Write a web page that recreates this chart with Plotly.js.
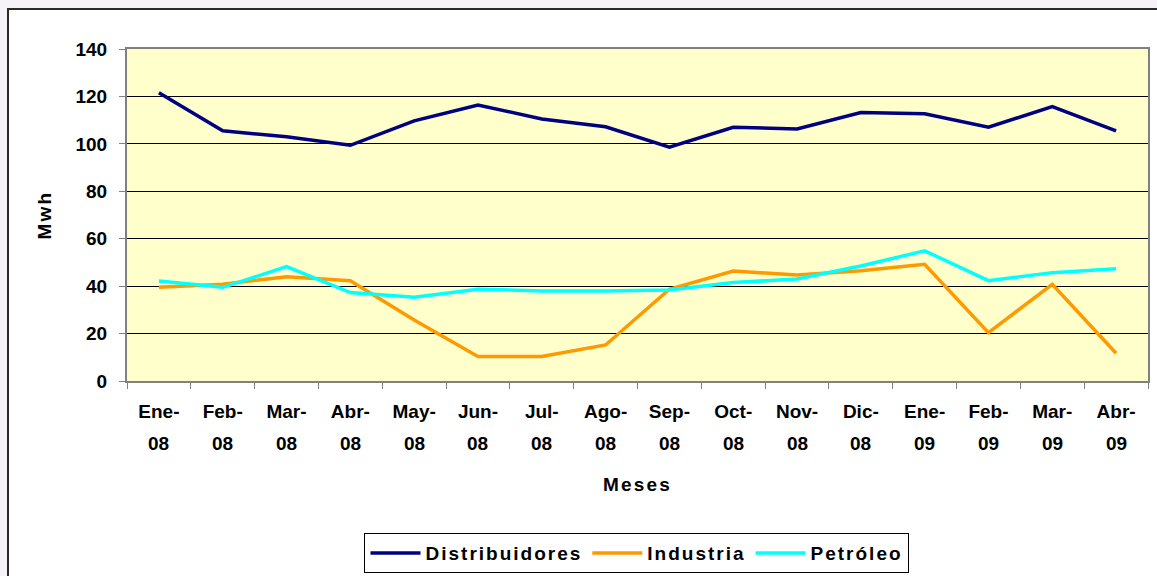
<!DOCTYPE html>
<html>
<head>
<meta charset="utf-8">
<script src="https://cdn.plot.ly/plotly-3.0.1.min.js"></script>
<style>
  html, body { margin: 0; padding: 0; background: #f5f2f8; width: 1157px; height: 576px; overflow: hidden; }
  #frame { position: absolute; left: 7px; top: 8px; width: 1160px; height: 580px; background: #ffffff; border: 2px solid #2a2a2a; }
  #chart { position: absolute; left: 0; top: 0; width: 1157px; height: 576px; }
  .legendtext { letter-spacing: 2px; }
  .xtitle, .ytitle { letter-spacing: 2.2px; }
</style>
</head>
<body>
<div id="frame"></div>
<div id="chart"></div>
<script>
// Categories (unique keys) and their two-line labels
const categories = ['Ene-08','Feb-08','Mar-08','Abr-08','May-08','Jun-08','Jul-08','Ago-08',
                    'Sep-08','Oct-08','Nov-08','Dic-08','Ene-09','Feb-09','Mar-09','Abr-09'];
const monthLabels = ['Ene-','Feb-','Mar-','Abr-','May-','Jun-','Jul-','Ago-',
                     'Sep-','Oct-','Nov-','Dic-','Ene-','Feb-','Mar-','Abr-'];
const yearLabels = ['08','08','08','08','08','08','08','08',
                    '08','08','08','08','09','09','09','09'];

// Series values (Mwh)
const distribuidores = [121.6,105.5,103.0,99.4,109.7,116.4,110.5,107.2,98.6,107.0,106.3,113.2,112.7,107.0,115.7,105.5];
const industria      = [39.5,40.8,44.0,42.3,25.7,10.3,10.3,15.2,38.7,46.4,44.7,46.5,49.2,20.4,40.8,11.7];
const petroleo       = [42.2,39.5,48.2,37.3,35.3,38.7,38.0,38.0,38.4,41.5,43.0,48.5,54.9,42.3,45.7,47.3];

const FONT = 'Liberation Sans, Arial, sans-serif';

const traces = [
  { name: 'Distribuidores', x: categories, y: distribuidores, type: 'scatter', mode: 'lines',
    line: { color: '#000080', width: 3.5 } },
  { name: 'Industria', x: categories, y: industria, type: 'scatter', mode: 'lines',
    line: { color: '#ff9900', width: 3.5 } },
  { name: 'Petróleo', x: categories, y: petroleo, type: 'scatter', mode: 'lines',
    line: { color: '#00ffff', width: 3.5 } }
];

const yearAnnotations = categories.map((c, i) => ({
  x: c, xref: 'x', y: -0.189, yref: 'paper', text: yearLabels[i], showarrow: false,
  xanchor: 'center', yanchor: 'middle',
  font: { family: FONT, size: 19, color: '#000000', weight: 'bold' }
}));

const layout = {
  width: 1157, height: 576,
  margin: { l: 127, r: 9, t: 49, b: 195, autoexpand: false },
  paper_bgcolor: 'rgba(0,0,0,0)',
  plot_bgcolor: '#ffffcc',
  showlegend: true,
  font: { family: FONT, size: 19, color: '#000000', weight: 'bold' },
  xaxis: {
    type: 'category',
    categoryorder: 'array', categoryarray: categories,
    tickmode: 'array', tickvals: categories, ticktext: monthLabels,
    range: [-0.5, 15.5],
    tickson: 'boundaries',
    ticks: 'outside', ticklen: 6, tickcolor: '#808080', tickwidth: 1,
    ticklabelstandoff: 12,
    showline: true, linecolor: '#808080', linewidth: 2, mirror: true,
    showgrid: false, zeroline: false,
    tickfont: { family: FONT, size: 19, color: '#000000', weight: 'bold' },
    title: { text: 'Meses', standoff: 57, font: { family: FONT, size: 19, color: '#000000', weight: 'bold' } },
    automargin: false
  },
  yaxis: {
    range: [0, 140], dtick: 20, tick0: 0,
    ticks: 'outside', ticklen: 6, tickcolor: '#808080', tickwidth: 1,
    ticklabelstandoff: 8,
    showline: true, linecolor: '#808080', linewidth: 2, mirror: true,
    showgrid: true, gridcolor: '#000000', gridwidth: 1, zeroline: false,
    tickfont: { family: FONT, size: 19, color: '#000000', weight: 'bold' },
    title: { text: 'Mwh', standoff: 19, font: { family: FONT, size: 19, color: '#000000', weight: 'bold' } },
    automargin: false
  },
  legend: {
    orientation: 'h', x: 0.4995, xanchor: 'center', y: -0.458, yanchor: 'top',
    bgcolor: '#ffffff', bordercolor: '#000000', borderwidth: 1,
    itemwidth: 50,
    font: { family: FONT, size: 19, color: '#000000', weight: 'bold' }
  },
  annotations: yearAnnotations
};

Plotly.newPlot('chart', traces, layout, { displayModeBar: false, staticPlot: true });
</script>
</body>
</html>
